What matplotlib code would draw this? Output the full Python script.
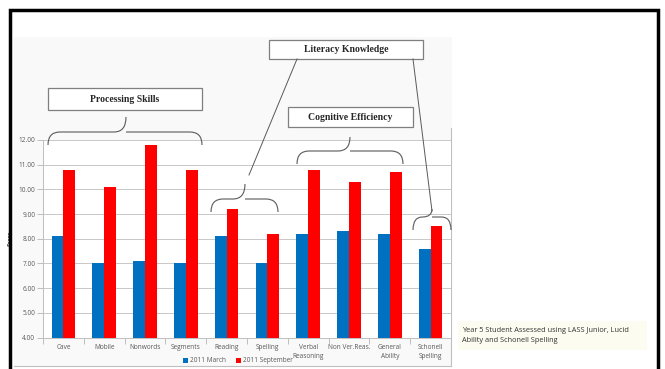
import numpy as np
import matplotlib
matplotlib.use("Agg")
import matplotlib.pyplot as plt
from matplotlib.path import Path
from matplotlib import patches

categories = ["Cave", "Mobile", "Nonwords", "Segments", "Reading", "Spelling",
              "Verbal\nReasoning", "Non Ver.Reas.", "General\nAbility", "Schonell\nSpelling"]
march = [8.1, 7.0, 7.1, 7.0, 8.1, 7.0, 8.2, 8.3, 8.2, 7.6]
september = [10.8, 10.1, 11.8, 10.8, 9.2, 8.2, 10.8, 10.3, 10.7, 8.5]
series_names = ["2011 March", "2011 September"]
y_ticks = [4, 5, 6, 7, 8, 9, 10, 11, 12]
caption = "Year 5 Student Assessed using LASS Junior, Lucid\nAbility and Schonell Spelling"

W, H = 665, 369
fig = plt.figure(figsize=(W / 100, H / 100), dpi=100)
fig.patch.set_facecolor("white")

# overlay in pixel coordinates
ov = fig.add_axes([0, 0, 1, 1], zorder=0)
ov.set_xlim(0, W)
ov.set_ylim(H, 0)
ov.axis("off")

# chart picture background
ov.add_patch(patches.Rectangle((14, 37), 438, 329, facecolor="#f9f9f9", edgecolor="none"))
ov.plot([451, 451], [128, 366], color="#bfbfbf", lw=0.8)
ov.plot([14, 451], [366, 366], color="#bfbfbf", lw=0.8)

# main chart
x0, x1, yb, yt = 43, 451, 337.5, 140
ax = fig.add_axes([x0 / W, 1 - yb / H, (x1 - x0) / W, (yb - yt) / H], zorder=1)
ax.set_facecolor("white")
x = np.arange(len(categories))
bw = 0.29
ax.bar(x - bw / 2, march, bw, color="#0070C0", label=series_names[0], zorder=2)
ax.bar(x + bw / 2, september, bw, color="#FF0000", label=series_names[1], zorder=2)
ax.set_xlim(-0.5, len(categories) - 0.5)
ax.set_ylim(4, 12)
ax.set_yticks(y_ticks)
ax.set_yticklabels(["%.2f" % v for v in y_ticks], fontsize=4.7, color="#595959",
                   family="Open Sans")
ax.yaxis.grid(True, color="#c8c8c8", lw=0.7, zorder=0)
ax.set_xticks(x)
ax.set_xticklabels(categories, fontsize=4.7, color="#595959", family="Open Sans",
                   linespacing=1.35)
ax.set_xticks(np.arange(-0.5, len(categories)), minor=True)
ax.tick_params(axis="x", which="major", length=0, pad=5)
ax.tick_params(axis="x", which="minor", length=4, color="#bfbfbf", width=0.7)
ax.tick_params(axis="y", length=4, color="#bfbfbf", width=0.7, pad=1.5)
for s in ["top", "right"]:
    ax.spines[s].set_visible(False)
for s in ["left", "bottom"]:
    ax.spines[s].set_color("#bfbfbf")
    ax.spines[s].set_linewidth(0.7)
ax.set_ylabel("Score", fontsize=3.5, fontweight="bold", color="#404040", labelpad=4)
fig.legend(loc="center", bbox_to_anchor=(238 / W, 1 - 361 / H), ncol=2, frameon=False,
           handlelength=0.8, handleheight=0.8, handletextpad=0.3,
           columnspacing=1.5, prop={"family": "Open Sans", "size": 4.7},
           labelcolor="#595959")

# annotation layer above chart
top = fig.add_axes([0, 0, 1, 1], zorder=3)
top.set_xlim(0, W)
top.set_ylim(H, 0)
top.axis("off")
top.patch.set_alpha(0)


def brace(a, xl, xr, y_end, y_arm, y_tip, xm=None):
    if xm is None:
        xm = (xl + xr) / 2
    r = min(12, (xm - xl) / 2)
    verts = [(xl, y_end), (xl, y_arm), (xl + r, y_arm),
             (xm - r, y_arm),
             (xm, y_arm), (xm, y_tip),
             (xm, y_arm), (xm + r, y_arm),
             (xr - r, y_arm),
             (xr, y_arm), (xr, y_end)]
    codes = [Path.MOVETO, Path.CURVE3, Path.CURVE3,
             Path.LINETO,
             Path.CURVE3, Path.CURVE3,
             Path.MOVETO, Path.CURVE3,
             Path.LINETO,
             Path.CURVE3, Path.CURVE3]
    a.add_patch(patches.PathPatch(Path(verts, codes), fill=False, edgecolor="#595959", lw=0.8))


def label_box(a, xl, yt_, xr, yb_, text):
    a.add_patch(patches.Rectangle((xl, yt_), xr - xl, yb_ - yt_, facecolor="white",
                                  edgecolor="#7f7f7f", lw=0.9))
    a.text((xl + xr) / 2, (yt_ + yb_) / 2, text, ha="center", va="center",
           fontsize=7, fontweight="bold", family="Liberation Serif", color="#262626")


brace(top, 48, 202, 145, 132, 117, 126)
brace(top, 211, 278, 212, 199, 184, 245)
brace(top, 297, 403, 164, 151, 137, 350)
brace(top, 413, 451, 230, 217, 209, 432)

top.plot([297, 249], [59, 175], color="#595959", lw=0.7)
top.plot([413, 432], [59, 211], color="#595959", lw=0.7)

label_box(top, 48, 88, 202, 110, "Processing Skills")
label_box(top, 269, 40, 423, 59, "Literacy Knowledge")
label_box(top, 288, 107, 413, 127, "Cognitive Efficiency")

# caption
top.add_patch(patches.Rectangle((458, 321), 189, 29, facecolor="#fcfcf0", edgecolor="none"))
top.text(462, 335.5, caption, ha="left", va="center", fontsize=5.3, color="#333333",
         family="Open Sans", linespacing=1.6)

# slide frame
top.plot([10, 10, 658, 658], [369, 9.5, 9.5, 369], color="black", lw=2.5,
         solid_joinstyle="miter")

fig.savefig("out.png", dpi=100)
